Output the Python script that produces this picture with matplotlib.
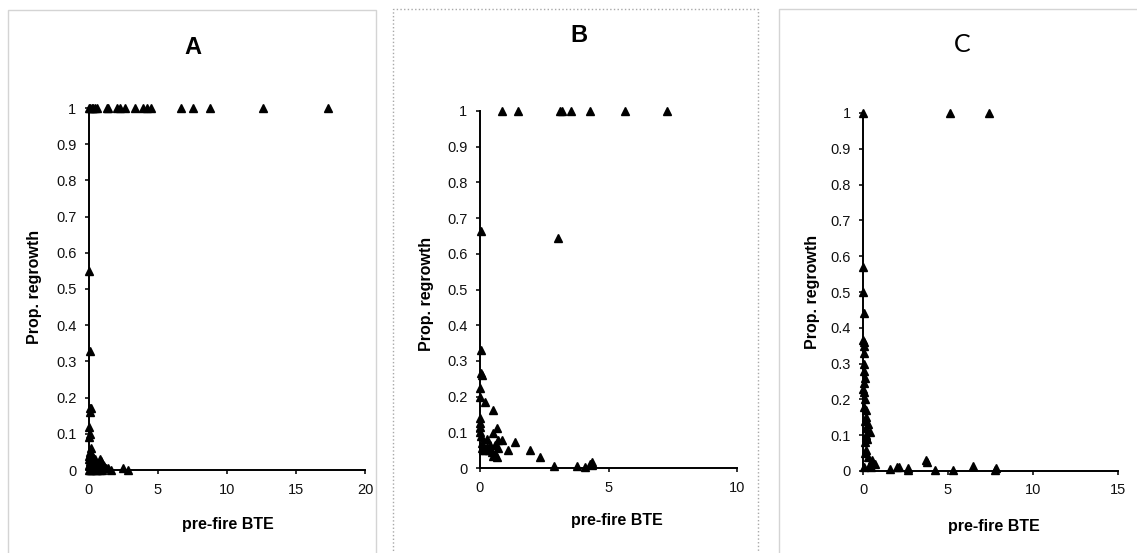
import matplotlib
matplotlib.use("Agg")
import matplotlib.pyplot as plt
from matplotlib.patches import Rectangle
import numpy as np

plt.rcParams['font.family'] = ['Liberation Sans', 'DejaVu Sans']

W, H = 1137, 553

# Panel A: pre-fire BTE vs proportion regrowth
a_x = [0.0, 0.07, 0.2, 0.3, 0.43, 0.56, 1.28, 1.4, 2.0, 2.25, 2.6, 3.33, 3.9, 4.2, 4.5,
       6.7, 7.56, 8.8, 12.6, 17.3,
       0.0, 0.05, 0.1, 0.15, 0.05, 0.0, 0.05, 0.0, 0.05, 0.0, 0.1, 0.2, 0.3,
       0.25, 0.4, 0.5, 0.6, 0.8, 0.9, 0.7, 1.0, 1.1, 1.2, 1.4, 1.6, 0.05, 0.1,
       0.0, 0.2, 0.35, 0.5, 0.8, 2.5, 2.8, 0.0, 0.15,
       0.1, 0.2, 0.3, 0.4, 0.45, 0.55, 0.65, 0.75, 0.85, 0.95, 0.3, 0.6, 0.15, 0.0, 0.1]
a_y = [1, 1, 1, 1, 1, 1, 1, 1, 1, 1, 1, 1, 1, 1, 1,
       1, 1, 1, 1, 1,
       0.55, 0.33, 0.17, 0.17, 0.16, 0.12, 0.10, 0.09, 0.05, 0.04, 0.045, 0.04, 0.035,
       0.02, 0.03, 0.02, 0.015, 0.03, 0.025, 0.01, 0.015, 0.01, 0.005, 0.005, 0.0, 0.02, 0.01,
       0.0, 0.0, 0.005, 0.0, 0.0, 0.005, 0.0, 0.03, 0.06,
       0.025, 0.015, 0.01, 0.01, 0.005, 0.01, 0.005, 0.015, 0.005, 0.0, 0.02, 0.0, 0.0, 0.015, 0.0]

# Panel B
b_x = [0.84, 1.49, 3.11, 3.2, 3.53, 4.28, 5.64, 7.26,
       3.02, 0.05,
       0.03, 0.02, 0.06, 0.0, 0.0, 0.19, 0.49, 0.0, 0.0, 0.65, 0.52, 0.84, 1.36,
       1.1, 1.95, 2.34, 2.86, 3.77, 4.1, 4.35, 4.35, 4.29,
       0.06, 0.13, 0.26, 0.39, 0.45, 0.58, 0.71, 0.52, 0.65, 0.26, 0.19, 0.71, 0.1,
       0.0, 0.04, 0.08, 0.34, 0.6, 0.0]
b_y = [1, 1, 1, 1, 1, 1, 1, 1,
       0.645, 0.665,
       0.33, 0.265, 0.26, 0.223, 0.2, 0.186, 0.162, 0.139, 0.116, 0.111, 0.098, 0.078, 0.074,
       0.05, 0.05, 0.032, 0.006, 0.005, 0.003, 0.018, 0.008, 0.012,
       0.07, 0.06, 0.06, 0.065, 0.045, 0.04, 0.055, 0.035, 0.03, 0.08, 0.05, 0.078, 0.05,
       0.125, 0.09, 0.055, 0.05, 0.065, 0.1]

# Panel C
c_x = [0.0, 5.09, 7.43,
       0.0, 0.0, 0.05, 0.05, 0.05, 0.05, 0.05, 0.05, 0.05, 0.1, 0.15, 0.2, 0.3, 0.4,
       0.2, 0.1, 0.15, 0.3, 0.5, 0.7, 0.05, 1.59, 2.14, 2.0, 2.67, 2.67, 3.78, 4.24,
       5.31, 6.45, 7.82, 7.76,
       0.0, 0.05, 0.1, 0.0, 0.05, 0.1, 0.15, 0.25, 0.2, 0.1, 0.35, 0.45, 3.72]
c_y = [1, 1, 1,
       0.57, 0.5, 0.44, 0.36, 0.35, 0.33, 0.28, 0.245, 0.22, 0.2, 0.17, 0.15, 0.13, 0.11,
       0.096, 0.08, 0.06, 0.04, 0.03, 0.02, 0.01, 0.005, 0.012, 0.01, 0.008, 0.002, 0.025, 0.004,
       0.002, 0.015, 0.008, 0.003,
       0.365, 0.3, 0.26, 0.23, 0.18, 0.14, 0.12, 0.09, 0.1, 0.05, 0.015, 0.01, 0.03]

panels = [
    dict(x=a_x, y=a_y, xmax=20, xticks=[0, 5, 10, 15, 20], title="A",
         ax_px=(89, 365, 108, 470), frame=(8, 376, 10), frame_ls='-',
         title_px=(193, 48), title_kw=dict(fontsize=17, fontweight='bold'),
         ylab_px=(35, 287), xlab_px=(228, 525)),
    dict(x=b_x, y=b_y, xmax=10, xticks=[0, 5, 10], title="B",
         ax_px=(480, 737, 111, 468), frame=(393, 758, 9), frame_ls=':',
         title_px=(579, 36), title_kw=dict(fontsize=17, fontweight='bold'),
         ylab_px=(427, 294), xlab_px=(617, 521)),
    dict(x=c_x, y=c_y, xmax=15, xticks=[0, 5, 10, 15], title="C",
         ax_px=(863, 1118, 113, 471), frame=(779, 1140, 9), frame_ls='-',
         title_px=(962, 45), title_kw=dict(fontsize=18, family=['Lato', 'DejaVu Sans']),
         ylab_px=(812, 292), xlab_px=(994, 527)),
]

fig = plt.figure(figsize=(W / 100, H / 100), dpi=100)

for p in panels:
    x0, x1, ytop, ybot = p['ax_px']
    # panel frame
    fx0, fx1, fy = p['frame']
    rect = Rectangle((fx0 / W, -0.05), (fx1 - fx0) / W, 1.05 - fy / H,
                     transform=fig.transFigure, fill=False,
                     edgecolor='#a8a8a8' if p['frame_ls'] == ':' else '#d4d4d4',
                     lw=1.0, ls=p['frame_ls'], zorder=0)
    fig.patches.append(rect)

    ax = fig.add_axes([x0 / W, 1 - ybot / H, (x1 - x0) / W, (ybot - ytop) / H])
    ax.plot(p['x'], p['y'], ls='none', marker='^', ms=6, color='black',
            clip_on=False, zorder=3)
    ax.set_xlim(0, p['xmax'])
    ax.set_ylim(0, 1)
    ax.set_xticks(p['xticks'])
    ax.set_yticks(np.round(np.arange(0, 1.01, 0.1), 1))
    ax.set_yticklabels(['0'] + [f"{v:.1f}" for v in np.arange(0.1, 0.95, 0.1)] + ['1'])
    for s in ['top', 'right']:
        ax.spines[s].set_visible(False)
    for s in ['left', 'bottom']:
        ax.spines[s].set_linewidth(1.4)
    ax.tick_params(axis='both', direction='out', length=3, width=1.2,
                   labelsize=10.5, colors='#111111', pad=6)
    ax.patch.set_alpha(0)

    fig.text(p['title_px'][0] / W, 1 - p['title_px'][1] / H, p['title'],
             ha='center', va='center', **p['title_kw'])
    fig.text(p['ylab_px'][0] / W, 1 - p['ylab_px'][1] / H, "Prop. regrowth",
             rotation=90, ha='center', va='center', fontsize=11.5, fontweight='bold')
    fig.text(p['xlab_px'][0] / W, 1 - p['xlab_px'][1] / H, "pre-fire BTE",
             ha='center', va='center', fontsize=11.5, fontweight='bold')

fig.savefig("out.png", dpi=100)
